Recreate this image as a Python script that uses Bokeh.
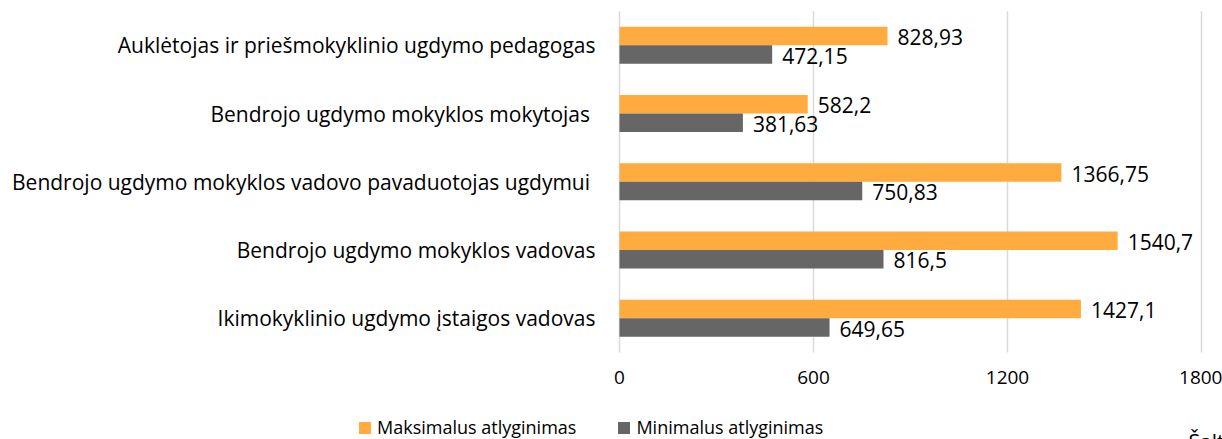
from bokeh.plotting import figure
from bokeh.models import ColumnDataSource, Range1d, FixedTicker, Legend, LegendItem, Label
from bokeh.transform import dodge
from bokeh.core.properties import value
from bokeh.embed import file_html
from bokeh.resources import INLINE

# bottom to top
categories = [
    "Ikimokyklinio ugdymo įstaigos vadovas",
    "Bendrojo ugdymo mokyklos vadovas",
    "Bendrojo ugdymo mokyklos vadovo pavaduotojas ugdymui ",
    "Bendrojo ugdymo mokyklos mokytojas ",
    "Auklėtojas ir priešmokyklinio ugdymo pedagogas",
]
maks = [1427.1, 1540.7, 1366.75, 582.2, 828.93]
mins = [649.65, 816.5, 750.83, 381.63, 472.15]
series_names = ["Maksimalus atlyginimas", "Minimalus atlyginimas"]
x_ticks = [0, 600, 1200, 1800]
source_note = "Šaltinis"

ORANGE = "#FFAB40"
GREY = "#666666"
FONT = "Open Sans"

W, H = 1222, 439
# view geometry: the plotting frame covers the whole canvas
PX_X = 582 / 1800          # px per salary unit
PX_Y = 68.25               # px per category band
X0_PX, BAND0_PX = 619, 317.8
X_VIEW = (-X0_PX / PX_X, (W - X0_PX) / PX_X)
Y_VIEW = (-(H - BAND0_PX) / PX_Y, BAND0_PX / PX_Y)

idx = list(range(len(categories)))


def fmt(v):
    return f"{v:g}".replace(".", ",")


src = ColumnDataSource(dict(
    idx=idx,
    maks=maks,
    mins=mins,
    maks_lbl=[fmt(v) for v in maks],
    mins_lbl=[fmt(v) for v in mins],
))
grid_src = ColumnDataSource(dict(
    x=x_ticks,
    y0=[idx[0] - 0.5] * len(x_ticks),
    y1=[idx[-1] + 0.5] * len(x_ticks),
))

p = figure(
    width=W, height=H,
    x_range=Range1d(*X_VIEW), y_range=Range1d(*Y_VIEW),
    output_backend="svg", toolbar_location=None,
    min_border=0, min_border_left=0, min_border_right=0,
    min_border_top=0, min_border_bottom=0,
)

# vertical gridlines over the category area
p.segment(x0="x", x1="x", y0="y0", y1="y1", source=grid_src,
          line_color="#d9d9d9", line_width=1.5)

off = 0.135
bh = 0.27
r1 = p.hbar(y=dodge("idx", off), left=0, right="maks", height=bh,
            fill_color=ORANGE, line_color=None, source=src)
r2 = p.hbar(y=dodge("idx", -off), left=0, right="mins", height=bh,
            fill_color=GREY, line_color=None, source=src)

p.text(x="maks", y=dodge("idx", off), text="maks_lbl", source=src,
       x_offset=10, y_offset=1, text_baseline="middle", text_align="left",
       text_font=value(FONT), text_font_size="21px", text_color="#000000")
p.text(x="mins", y=dodge("idx", -off), text="mins_lbl", source=src,
       x_offset=10, y_offset=1, text_baseline="middle", text_align="left",
       text_font=value(FONT), text_font_size="21px", text_color="#000000")

# axes drawn inside the frame at fixed data locations
p.xaxis.ticker = FixedTicker(ticks=x_ticks)
p.xaxis.fixed_location = idx[0] - 0.5
p.yaxis.ticker = FixedTicker(ticks=idx)
p.yaxis.major_label_overrides = {i: c for i, c in zip(idx, categories)}
p.yaxis.fixed_location = 0
for ax in (p.xaxis[0], p.yaxis[0]):
    ax.axis_line_color = None
    ax.major_tick_line_color = None
    ax.minor_tick_line_color = None
    ax.major_tick_out = 0
    ax.major_tick_in = 0
    ax.minor_tick_out = 0
    ax.minor_tick_in = 0
    ax.major_label_text_font = FONT
    ax.major_label_text_color = "#000000"
p.xaxis.major_label_text_font_size = "19px"
p.xaxis.major_label_standoff = 19
p.yaxis.major_label_text_font_size = "21px"
p.yaxis.major_label_standoff = 24

p.xgrid.visible = False
p.ygrid.visible = False
p.outline_line_color = None

legend = Legend(
    items=[LegendItem(label=series_names[0], renderers=[r1]),
           LegendItem(label=series_names[1], renderers=[r2])],
    location=(357, 0), orientation="horizontal",
    border_line_color=None, background_fill_alpha=0,
    padding=0, margin=0, spacing=40,
    glyph_width=15, glyph_height=15, label_standoff=5,
    label_text_font=FONT, label_text_font_size="18px", label_text_color="#000000",
)
p.add_layout(legend, "center")

note = Label(x=1188, y=12, x_units="screen", y_units="screen", text=source_note,
             text_font=FONT, text_font_size="21px", text_color="#000000",
             text_baseline="top", text_align="left")
p.add_layout(note)

open("out.html", "w").write(file_html(p, INLINE))
